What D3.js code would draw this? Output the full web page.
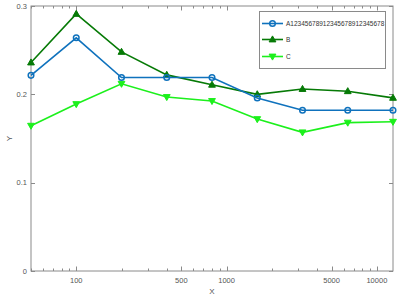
<!DOCTYPE html>
<html>
<head>
<meta charset="utf-8">
<script src="https://cdn.jsdelivr.net/npm/d3@7"></script>
<style>
  body { margin: 0; background: #fff; }
  svg text { font-family: "Liberation Sans", Arial, sans-serif; }
</style>
</head>
<body>
<div id="canvas"></div>
<script>
const xValues = [50, 100, 200, 400, 800, 1600, 3200, 6400, 12800];
const seriesA = [0.2215, 0.264, 0.219, 0.219, 0.219, 0.1958, 0.182, 0.182, 0.182];
const seriesB = [0.236, 0.291, 0.248, 0.222, 0.2108, 0.200, 0.206, 0.2035, 0.196];
const seriesC = [0.1645, 0.189, 0.212, 0.197, 0.1925, 0.172, 0.157, 0.168, 0.169];
const seriesNames = ['A12345678912345678912345678', 'B', 'C'];
const xMajorTicks = [100, 500, 1000, 5000, 10000];
const yTicks = [0, 0.1, 0.2, 0.3];

const W = 407, H = 305;
const margin = { left: 31, right: 14, top: 6, bottom: 34 };
const colors = ['#0f72bd', '#067a06', '#1cf01c'];
const axisColor = '#8a8a8a';

const x = d3.scaleLog().domain([50, 12800]).range([margin.left, W - margin.right]);
const y = d3.scaleLinear().domain([0, 0.3]).range([H - margin.bottom, margin.top]);

const svg = d3.select('#canvas').append('svg')
    .attr('width', W)
    .attr('height', H);

// minor ticks on the log axis: every integer multiple inside each decade
let minorTicks = [];
[10, 100, 1000, 10000].forEach(function(dec) {
    for (let k = 1; k < 10; k++) {
        const v = dec * k;
        if (v >= 50 && v <= 12800 && xMajorTicks.indexOf(v) < 0) minorTicks.push(v);
    }
});

const x0 = x.range()[0], x1 = x.range()[1];
const y0 = y.range()[0], y1 = y.range()[1];

const axes = svg.append('g').attr('stroke', axisColor).attr('stroke-width', 1);
axes.append('rect')
    .attr('x', x0).attr('y', y1)
    .attr('width', x1 - x0).attr('height', y0 - y1)
    .attr('fill', 'none');

// x ticks, bottom and top, pointing inward
[[y0, -1], [y1, 1]].forEach(function(p) {
    axes.selectAll(null).data(minorTicks).enter().append('line')
        .attr('x1', d => Math.round(x(d)) + 0.5).attr('x2', d => Math.round(x(d)) + 0.5)
        .attr('y1', p[0]).attr('y2', p[0] + p[1] * 2.5);
    axes.selectAll(null).data(xMajorTicks).enter().append('line')
        .attr('x1', d => Math.round(x(d)) + 0.5).attr('x2', d => Math.round(x(d)) + 0.5)
        .attr('y1', p[0]).attr('y2', p[0] + p[1] * 4.5);
});

// y ticks, left and right
[[x0, 1], [x1, -1]].forEach(function(p) {
    axes.selectAll(null).data(yTicks).enter().append('line')
        .attr('y1', d => Math.round(y(d)) + 0.5).attr('y2', d => Math.round(y(d)) + 0.5)
        .attr('x1', p[0]).attr('x2', p[0] + p[1] * 4);
});

svg.append('g').selectAll('text').data(xMajorTicks).enter().append('text')
    .attr('x', d => x(d)).attr('y', y0 + 12)
    .attr('text-anchor', 'middle')
    .attr('font-size', 7.5).attr('fill', '#555')
    .text(d => d);

svg.append('g').selectAll('text').data(yTicks).enter().append('text')
    .attr('x', x0 - 4).attr('y', d => y(d) + 2.7)
    .attr('text-anchor', 'end')
    .attr('font-size', 7.5).attr('fill', '#555')
    .text(d => d === 0 ? '0' : d.toFixed(1));

svg.append('text')
    .attr('x', (x0 + x1) / 2).attr('y', H - 11)
    .attr('text-anchor', 'middle')
    .attr('font-size', 8).attr('fill', '#555')
    .text('X');

svg.append('text')
    .attr('transform', 'translate(12,' + ((y0 + y1) / 2) + ') rotate(-90)')
    .attr('text-anchor', 'middle')
    .attr('font-size', 8).attr('fill', '#555')
    .text('Y');

const series = [seriesA, seriesB, seriesC];
const line = d3.line().x(d => x(d[0])).y(d => y(d[1]));
const triUp = 'M0,-3.6L3.4,2.4L-3.4,2.4Z';
const triDown = 'M0,3.6L3.4,-2.4L-3.4,-2.4Z';

function marker(g, i) {
    if (i === 0) {
        g.append('circle').attr('r', 2.8)
            .attr('fill', 'none').attr('stroke', colors[i]).attr('stroke-width', 1.5);
    } else {
        g.append('path').attr('d', i === 1 ? triUp : triDown)
            .attr('fill', colors[i]).attr('stroke', colors[i]).attr('stroke-width', 1);
    }
}

// draw C first, then B, then A on top
[2, 1, 0].forEach(function(i) {
    const pts = xValues.map((v, j) => [v, series[i][j]]);
    const g = svg.append('g');
    g.append('path').datum(pts)
        .attr('d', line)
        .attr('fill', 'none')
        .attr('stroke', colors[i])
        .attr('stroke-width', 1.6);
    pts.forEach(function(p) {
        marker(g.append('g').attr('transform', 'translate(' + x(p[0]) + ',' + y(p[1]) + ')'), i);
    });
});

// legend
const lx = 259, ly = 11, lw = 126, lh = 57;
const legend = svg.append('g');
legend.append('rect')
    .attr('x', lx + 0.5).attr('y', ly + 0.5)
    .attr('width', lw).attr('height', lh)
    .attr('fill', '#fff').attr('stroke', '#8a8a8a');
const rowY = [23.5, 39.5, 56.5];
seriesNames.forEach(function(name, i) {
    legend.append('line')
        .attr('x1', lx + 3).attr('x2', lx + 24)
        .attr('y1', rowY[i]).attr('y2', rowY[i])
        .attr('stroke', colors[i]).attr('stroke-width', 1.6);
    marker(legend.append('g').attr('transform', 'translate(' + (lx + 13.5) + ',' + rowY[i] + ')'), i);
    legend.append('text')
        .attr('x', lx + 27).attr('y', rowY[i] + 2.4)
        .attr('font-size', 6.5).attr('fill', '#333')
        .text(name);
});
</script>
</body>
</html>
